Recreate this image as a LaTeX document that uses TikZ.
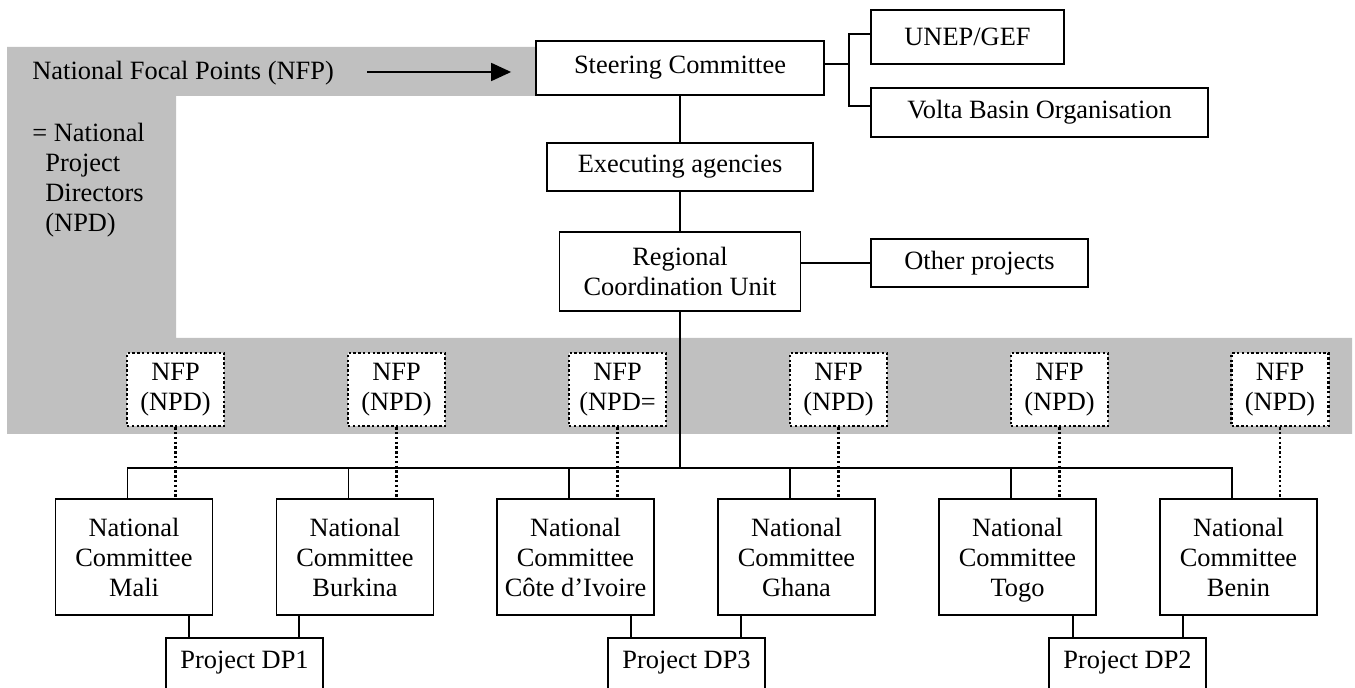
\documentclass[tikz,border=0pt]{standalone}
\usepackage{fontspec}
\setmainfont{Liberation Serif}
\usetikzlibrary{arrows.meta,calc}
\definecolor{band}{RGB}{192,192,192}
\begin{document}
\begin{tikzpicture}[x=0.5pt,y=-0.5pt,
  every node/.style={font=\fontsize{13.2pt}{15pt}\selectfont, inner sep=0pt},
  box/.style={draw, line width=0.9pt, fill=white, align=center},
  nfpbox/.style={draw, line width=1.2pt, dash pattern=on 1.2pt off 1.2pt, fill=white, align=center, minimum width=48.5pt, minimum height=36.5pt},
  ncbox/.style={box, minimum width=78.5pt, minimum height=58pt},
  dpbox/.style={box, anchor=north, minimum width=78.5pt, text height=9pt, text depth=25pt, inner ysep=6.5pt},
  conn/.style={line width=0.9pt},
  dots/.style={line width=1.2pt, dash pattern=on 1.2pt off 1.2pt},
]
\useasboundingbox (0,0) rectangle (1355,688);
% grey background band
\fill[band] (7,47) -- (536,47) -- (536,96) -- (176,96) -- (176,338) -- (1352,338) -- (1352,434) -- (7,434) -- cycle;

% labels in the grey band
\node[anchor=base west] (nfplabel) at (32,80) {National Focal Points (NFP)};
\node[anchor=north west, align=left] (npdlabel) at (32,123) {= National\\\hspace*{6.5pt}Project\\\hspace*{6.5pt}Directors\\\hspace*{6.5pt}(NPD)};

% top boxes
\node[box, minimum width=144pt, minimum height=27pt] (sc) at (680,68) {Steering Committee};
\node[box, minimum width=96.5pt, minimum height=27pt] (unep) at (967.5,37) {UNEP/GEF};
\node[box, minimum width=168.5pt, minimum height=24.5pt] (volta) at (1039.5,112.5) {Volta Basin Organisation};
\node[box, minimum width=133pt, minimum height=24pt] (exec) at (680,167) {Executing agencies};
\node[box, minimum width=120.5pt, minimum height=39.5pt] (rcu) at (680,271.5) {Regional\\Coordination Unit};
\node[box, minimum width=108.5pt, minimum height=24pt] (other) at (979.5,263) {Other projects};

% NFP boxes
\node[nfpbox] (f1) at (175.5,389.5) {NFP\\(NPD)};
\node[nfpbox] (f2) at (396.5,389.5) {NFP\\(NPD)};
\node[nfpbox] (f3) at (617.5,389.5) {NFP\\(NPD=};
\node[nfpbox] (f4) at (838.5,389.5) {NFP\\(NPD)};
\node[nfpbox] (f5) at (1059.5,389.5) {NFP\\(NPD)};
\node[nfpbox] (f6) at (1280,389.5) {NFP\\(NPD)};

% National committees
\node[ncbox] (n1) at (134,557) {National\\Committee\\Mali};
\node[ncbox] (n2) at (355,557) {National\\Committee\\Burkina};
\node[ncbox] (n3) at (575.5,557) {National\\Committee\\Côte d’Ivoire};
\node[ncbox] (n4) at (796.5,557) {National\\Committee\\Ghana};
\node[ncbox] (n5) at (1017.5,557) {National\\Committee\\\smash{Togo}};
\node[ncbox] (n6) at (1238.5,557) {National\\Committee\\Benin};

% projects
\node[dpbox] (d1) at (244.5,637) {Project DP1};
\node[dpbox] (d3) at (686.5,637) {Project DP3};
\node[dpbox] (d2) at (1127.5,637) {Project DP2};

% arrow
\coordinate (a1) at (367,72);
\draw[conn, -{Triangle[length=10pt,width=9pt]}, shorten >=12pt] (a1) -- (a1 -| sc.west);

% top connectors
\draw[conn] ([yshift=2pt]sc.east) -- ++(24,0) coordinate (sj);
\draw[conn] ([yshift=1.5pt]unep.west) -| (sj) |- ([yshift=3.25pt]volta.west);
\draw[conn] (sc.south) -- (exec.north);
\draw[conn] (exec.south) -- (rcu.north);
\draw[conn] (other.west) -- (other.west -| rcu.east);

% bus
\coordinate (bus) at (680,468);
\draw[conn] (rcu.south) -- (bus);
\foreach \i in {1,...,6} {\coordinate (s\i) at ($(n\i.north)+(-6.5,0)$);}
\draw[conn] (s1) |- (bus) -| (s6);
\foreach \i in {2,...,5} {\draw[conn] (s\i) -- (s\i |- bus);}

% dotted links
\foreach \i in {1,...,6} {\draw[dots] (f\i.south) -- (f\i.south |- n\i.north);}

% project links
\coordinate (p1a) at ($(d1.north)+(-55.5,0)$);
\coordinate (p1b) at ($(d1.north)+(54.5,0)$);
\coordinate (p3a) at ($(d3.north)+(-55.5,0)$);
\coordinate (p3b) at ($(d3.north)+(54.5,0)$);
\coordinate (p2a) at ($(d2.north)+(-54.5,0)$);
\coordinate (p2b) at ($(d2.north)+(55.5,0)$);
\draw[conn] (p1a) -- (p1a |- n1.south);
\draw[conn] (p1b) -- (p1b |- n2.south);
\draw[conn] (p3a) -- (p3a |- n3.south);
\draw[conn] (p3b) -- (p3b |- n4.south);
\draw[conn] (p2a) -- (p2a |- n5.south);
\draw[conn] (p2b) -- (p2b |- n6.south);
\end{tikzpicture}
\end{document}
